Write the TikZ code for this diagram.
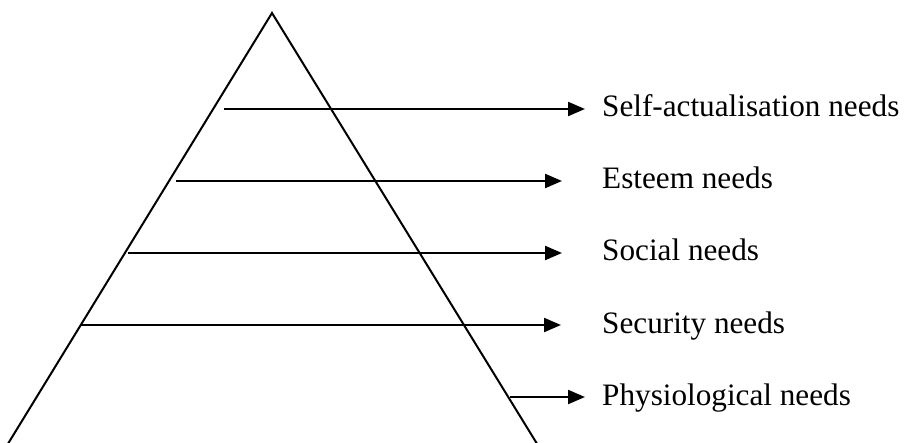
\documentclass[tikz,border=0pt]{standalone}
\usepackage{fontspec}
\setmainfont{Liberation Serif}
\usetikzlibrary{arrows.meta}
\begin{document}
\begin{tikzpicture}[x=1pt,y=-1pt,
  edge/.style={line width=2pt, line join=miter},
  lvl/.style={line width=2.2pt, -{Triangle[length=17pt,width=14pt]}},
  lbl/.style={anchor=base west, inner sep=0pt, font=\fontsize{31.2}{37}\selectfont}]
\useasboundingbox (0,0) rectangle (909,443);
% pyramid
\coordinate (apex) at (272,13);
\coordinate (bl) at (6,447);
\coordinate (br) at (539,447);
\draw[edge] (bl) -- (apex) -- (br);
% labels
\node[lbl] (l1) at (602,117) {Self-actualisation needs};
\node[lbl] (l2) at (602,189) {Esteem needs};
\node[lbl] (l3) at (602,261) {Social needs};
\node[lbl] (l4) at (602,333) {Security needs};
\node[lbl] (l5) at (602,405) {Physiological needs};
% arrow start and end points
\coordinate (s1) at (224,109); \coordinate (e1) at (585,109);
\coordinate (s2) at (176,181); \coordinate (e2) at (562,181);
\coordinate (s3) at (128,253); \coordinate (e3) at (562,253);
\coordinate (s4) at (81,325);  \coordinate (e4) at (561,325);
\coordinate (s5) at (510,397); \coordinate (e5) at (585,397);
\draw[lvl] (s1) -- (e1);
\draw[lvl] (s2) -- (e2);
\draw[lvl] (s3) -- (e3);
\draw[lvl] (s4) -- (e4);
\draw[lvl] (s5) -- (e5);
\end{tikzpicture}
\end{document}
